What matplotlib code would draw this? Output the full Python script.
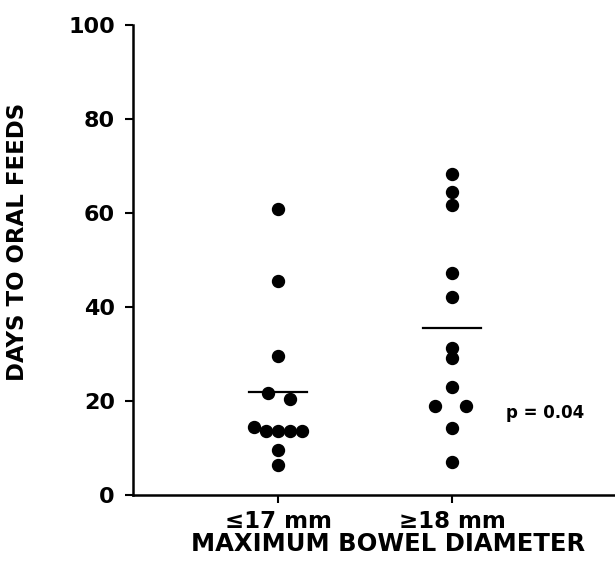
import numpy as np
import matplotlib.pyplot as plt

# days to oral feeds
small_x = [1, 1, 1, 0.94, 1.07, 0.86, 0.93, 1, 1.07, 1.14, 1, 1]
small_y = [60.9, 45.6, 29.6, 21.7, 20.4, 14.5, 13.6, 13.6, 13.6, 13.6, 9.6, 6.4]
large_x = [2, 2, 2, 2, 2, 2, 2, 2, 1.9, 2.08, 2, 2]
large_y = [68.4, 64.4, 61.6, 47.2, 42.2, 31.2, 29.1, 23.0, 18.9, 18.9, 14.2, 7.1]
means = [21.9, 35.5]
groups = ["\u226417 mm", "\u226518 mm"]
yticks = [0, 20, 40, 60, 80, 100]

plt.rcParams['font.family'] = ['DejaVu Sans']

fig = plt.figure(figsize=(6.15, 5.68), dpi=100)
ax = fig.add_axes([0.2163, 0.1285, 0.7837, 0.8275])

ax.plot(small_x, small_y, 'o', color='black', markersize=8.6)
ax.plot(large_x, large_y, 'o', color='black', markersize=8.6)
for i, m in enumerate(means):
    ax.plot([i + 1 - 0.165, i + 1 + 0.165], [m, m], color='black', lw=1.6)

ax.set_xlim(0.167, 2.937)
ax.set_ylim(0, 100)
ax.set_xticks([1, 2])
ax.set_xticklabels(groups, fontsize=16.5, fontweight='bold')
ax.set_yticks(yticks)
ax.set_yticklabels([str(t) for t in yticks], fontsize=16, fontweight='bold')
ax.tick_params(axis='both', direction='out', length=6, width=1.5, pad=7)
ax.tick_params(axis='x', pad=5)

for s in ['top', 'right']:
    ax.spines[s].set_visible(False)
for s in ['left', 'bottom']:
    ax.spines[s].set_linewidth(1.8)

ax.set_ylabel("DAYS TO ORAL FEEDS", fontsize=16.5, fontweight='bold')
ax.yaxis.set_label_coords(-0.215, 0.538)
ax.set_xlabel("MAXIMUM BOWEL DIAMETER", fontsize=17.5, fontweight='bold')
ax.xaxis.set_label_coords(0.529, -0.078)

ax.text(2.31, 17.5, "p = 0.04", fontsize=12, fontweight='bold', va='center')

fig.savefig("out.png", dpi=100)
